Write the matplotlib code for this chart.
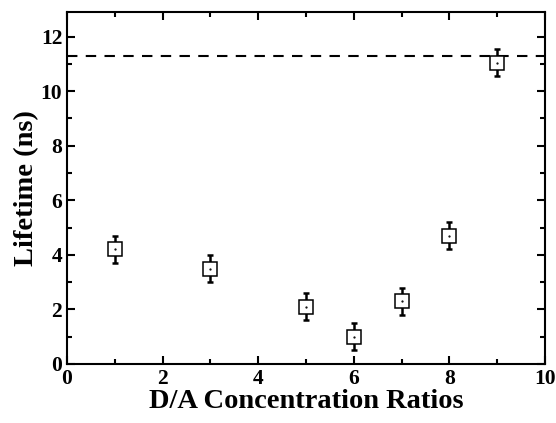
import matplotlib
matplotlib.use("Agg")
import matplotlib.pyplot as plt
from matplotlib.ticker import MultipleLocator

ratios = [1, 3, 5, 6, 7, 8, 9]
lifetimes = [4.2, 3.5, 2.1, 1.0, 2.3, 4.7, 11.05]
errors = [0.5, 0.5, 0.5, 0.5, 0.5, 0.5, 0.5]
reference_lifetime = 11.3

plt.rcParams["font.family"] = ["Liberation Serif", "DejaVu Serif"]
plt.rcParams["font.weight"] = "bold"

fig = plt.figure(figsize=(5.56, 4.23), dpi=100)
ax = fig.add_axes([0.1205, 0.1395, 0.8595, 0.832])

ax.axhline(reference_lifetime, color="black", linestyle=(0, (5, 4)), linewidth=1.5)
ax.errorbar(ratios, lifetimes, yerr=errors, fmt="none", ecolor="black",
            elinewidth=1.8, capsize=2.2, capthick=1.8, zorder=2)
ax.plot(ratios, lifetimes, linestyle="none", marker="s", markersize=9.5,
        markerfacecolor="white", markeredgecolor="black", markeredgewidth=1.1, zorder=3)
ax.plot(ratios, lifetimes, linestyle="none", marker=".", markersize=1.2,
        color="black", zorder=4)

ax.set_xlim(0, 10)
ax.set_ylim(0, 12.9)
ax.xaxis.set_major_locator(MultipleLocator(2))
ax.xaxis.set_minor_locator(MultipleLocator(1))
ax.yaxis.set_major_locator(MultipleLocator(2))
ax.yaxis.set_minor_locator(MultipleLocator(1))
ax.tick_params(which="both", direction="in", top=True, right=True, width=1.5)
ax.tick_params(which="major", length=6, labelsize=15.5)
ax.tick_params(which="minor", length=3.5)
for lbl in ax.get_xticklabels() + ax.get_yticklabels():
    lbl.set_fontweight("bold")
for s in ax.spines.values():
    s.set_linewidth(1.5)

ax.set_xlabel("D/A Concentration Ratios", fontsize=20.5, fontweight="bold", labelpad=0)
ax.set_ylabel("Lifetime (ns)", fontsize=20.5, fontweight="bold", labelpad=1)

fig.savefig("out.png", dpi=100)
